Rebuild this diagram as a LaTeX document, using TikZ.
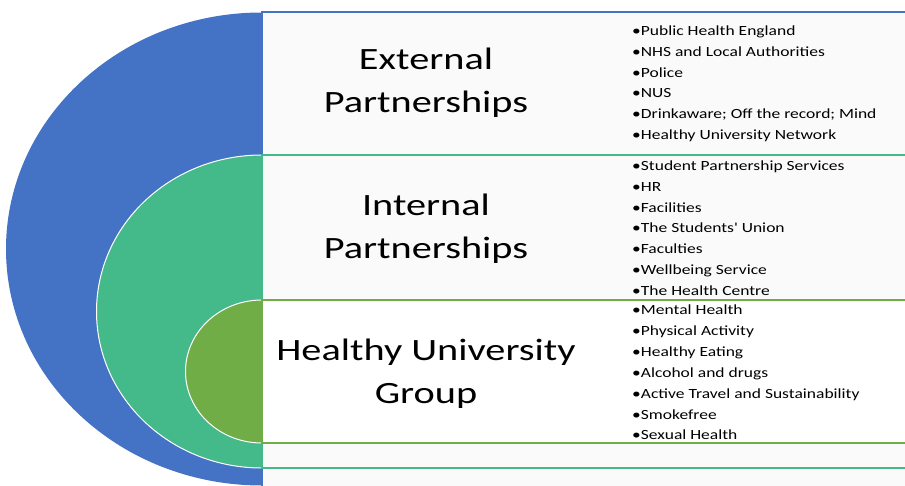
\documentclass[tikz,border=0pt]{standalone}
\usepackage{fontspec}
\setmainfont{Carlito}
\newfontfamily\headfont{Carlito}[FakeStretch=1.30]
\newfontfamily\listfont{Carlito}[FakeStretch=1.25]
\definecolor{outerblue}{HTML}{4472C4}
\definecolor{midteal}{HTML}{44BA8B}
\definecolor{innergreen}{HTML}{70AD47}
\definecolor{panel}{HTML}{FAFAFA}
\begin{document}
\begin{tikzpicture}[x=1pt,y=-1pt,
  ring/.style={draw=white,line width=1pt},
  band/.style={line width=#1},
  title/.style={anchor=base,align=center,inner sep=0pt,font=\headfont\fontsize{31}{43.3}\selectfont},
  item/.style={anchor=base west,inner sep=0pt,font=\listfont\fontsize{14}{17}\selectfont}]
\useasboundingbox (0,0) rectangle (905,486);
\clip (0,0) rectangle (905,486);
% outer layer: external partnerships
\fill[outerblue] (262,249) ellipse [x radius=256pt, y radius=236.5pt];
\filldraw[fill=panel,draw=outerblue,band=1.5pt] (262,12) rectangle (960,520);
% middle layer: internal partnerships
\filldraw[fill=midteal,ring] (262,311.5) ellipse [x radius=165.5pt, y radius=156.5pt];
\filldraw[fill=panel,draw=midteal,band=2pt] (262,155.5) rectangle (960,467.5);
% inner layer: healthy university group
\filldraw[fill=innergreen,ring] (262,371.5) ellipse [x radius=76.5pt, y radius=71.5pt];
\filldraw[fill=white,draw=innergreen,band=2pt] (262,300) rectangle (960,443);
% headings (anchored on the baseline of their last line)
\node[title] (ext) at (426,112.7) {External\\Partnerships};
\node[title] (int) at (426,259) {Internal\\Partnerships};
\node[title] (hug) at (426,403.3) {Healthy University\\Group};
% member lists
\foreach \t [count=\i] in {Public Health England,NHS and Local Authorities,Police,NUS,Drinkaware; Off the record; Mind,Healthy University Network}
  \node[item] (ext\i) at (632,{35.5+20.8*(\i-1)}) {•\t};
\foreach \t [count=\i] in {Student Partnership Services,HR,Facilities,The Students' Union,Faculties,Wellbeing Service,The Health Centre}
  \node[item] (int\i) at (632,{170.5+20.8*(\i-1)}) {•\t};
\foreach \t [count=\i] in {Mental Health,Physical Activity,Healthy Eating,Alcohol and drugs,Active Travel and Sustainability,Smokefree,Sexual Health}
  \node[item] (hug\i) at (632,{315+20.8*(\i-1)}) {•\t};
\end{tikzpicture}
\end{document}
